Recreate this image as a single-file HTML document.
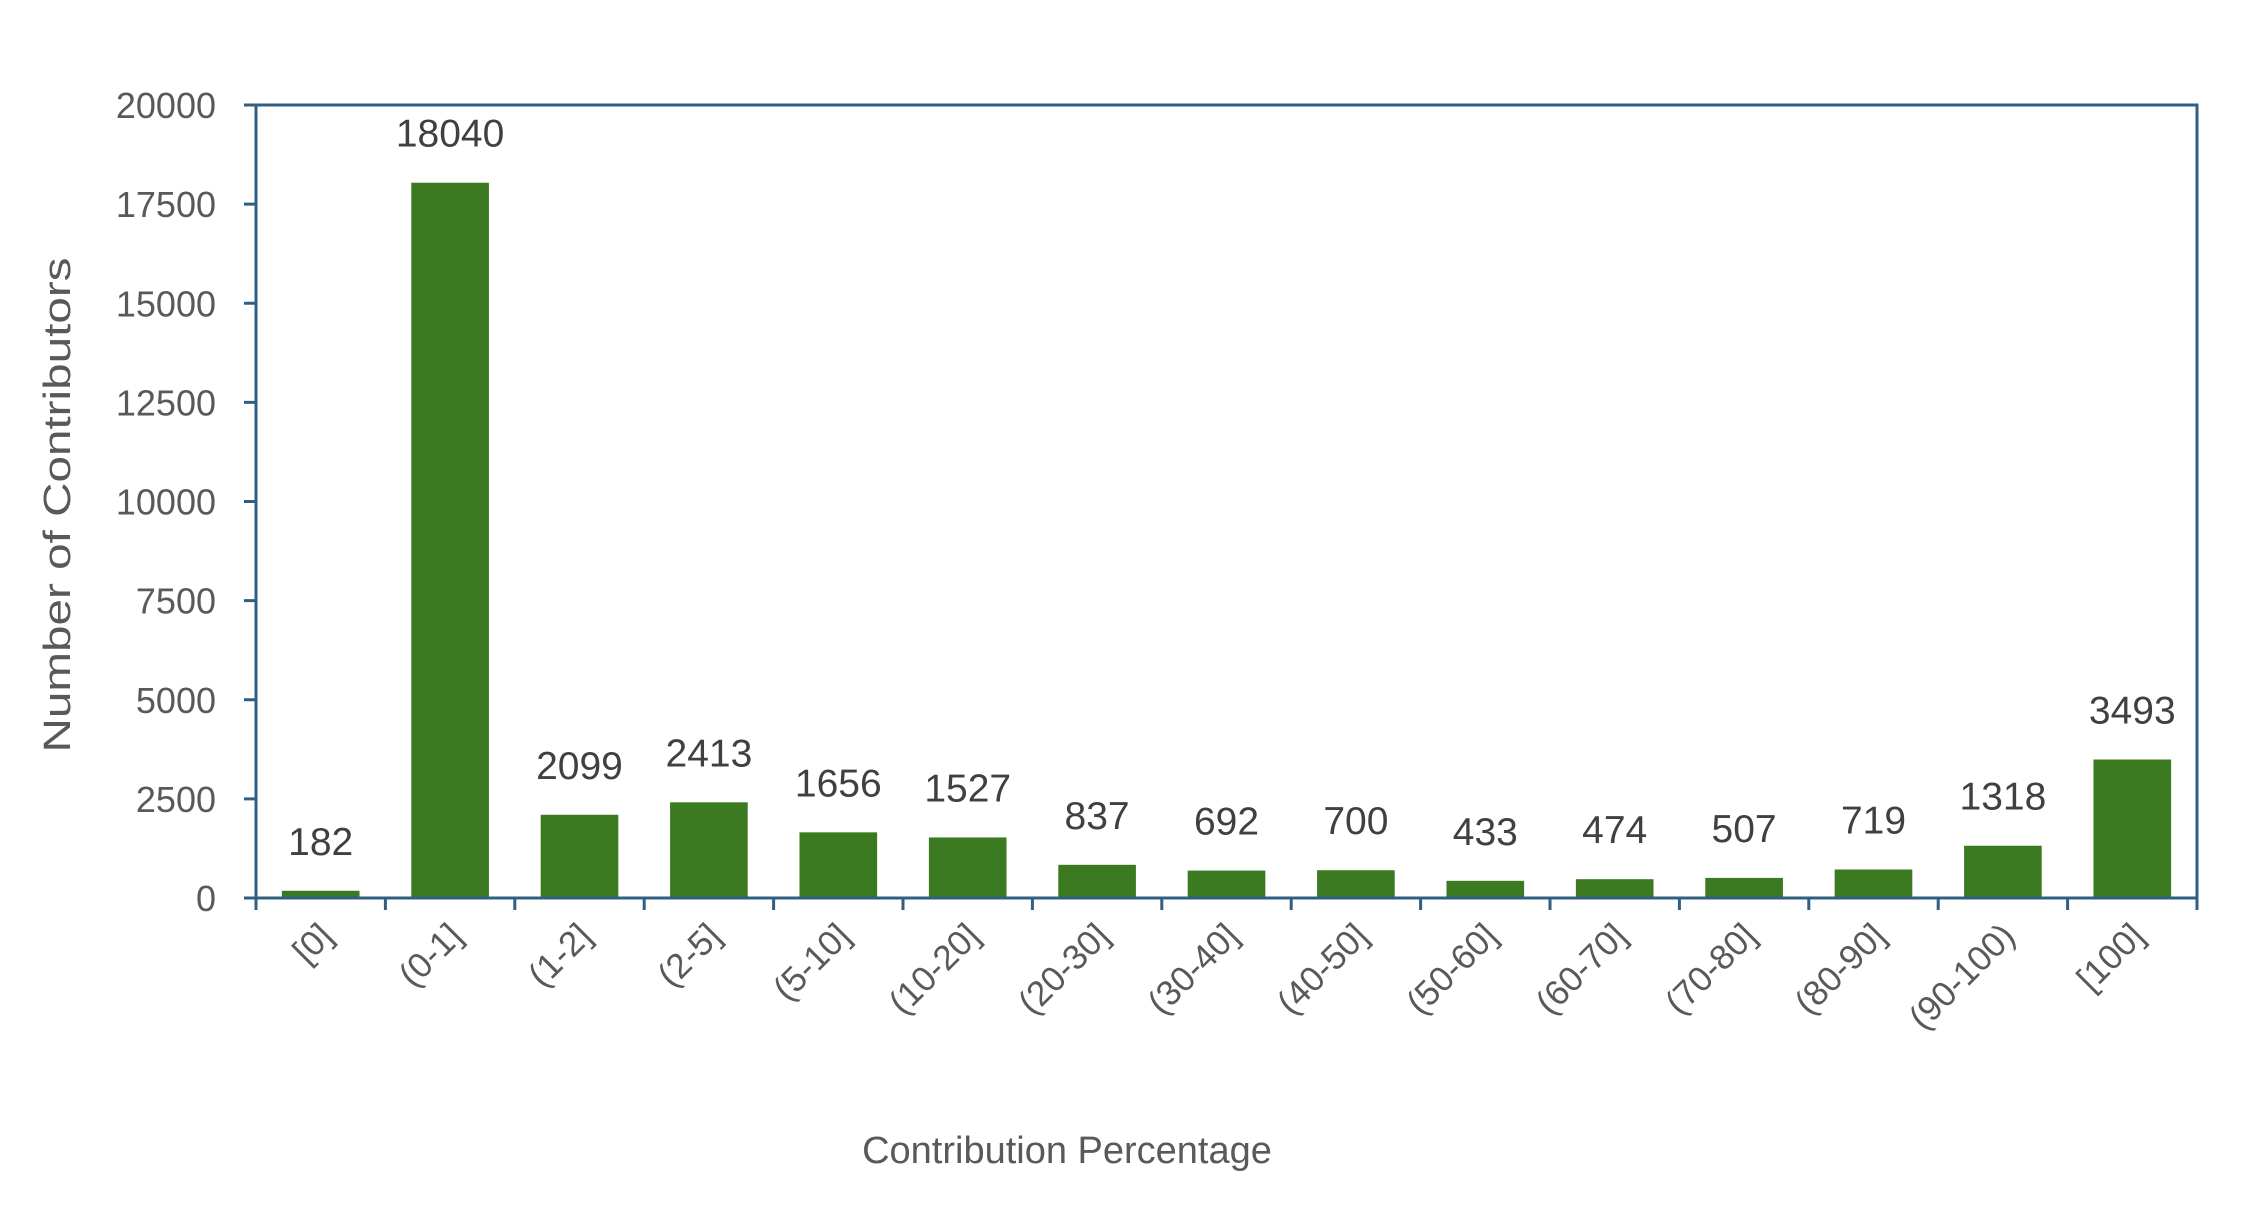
<!DOCTYPE html>
<html><head><meta charset="utf-8"><style>
html,body{margin:0;padding:0;background:#fff;}
svg{display:block;}
text{font-family:"Liberation Sans",sans-serif;}
</style></head><body>
<svg id="chart" width="2254" height="1216" viewBox="0 0 2254 1216" xmlns="http://www.w3.org/2000/svg">
<g id="bars"></g>
<g id="axes"></g>
<text x="0" y="0" transform="translate(70,505) rotate(-90)" text-anchor="middle" font-size="38" fill="#595959" textLength="495" lengthAdjust="spacingAndGlyphs">Number of Contributors</text>
<text x="1067" y="1163" text-anchor="middle" font-size="38" fill="#595959">Contribution Percentage</text>
</svg>
<script>
const categories = ["[0]","(0-1]","(1-2]","(2-5]","(5-10]","(10-20]","(20-30]","(30-40]","(40-50]","(50-60]","(60-70]","(70-80]","(80-90]","(90-100)","[100]"];
const values = [182,18040,2099,2413,1656,1527,837,692,700,433,474,507,719,1318,3493];
const yTicks = [0,2500,5000,7500,10000,12500,15000,17500,20000];

const NS = "http://www.w3.org/2000/svg";
const plotLeft = 256, plotRight = 2197, plotTop = 105, plotBase = 898, yMax = 20000;
const band = (plotRight - plotLeft) / categories.length;
function yScale(v){ return plotBase - (v / yMax) * (plotBase - plotTop); }
function xCenter(i){ return plotLeft + band * (i + 0.5); }
function mk(tag, attrs, parent){ const e = document.createElementNS(NS, tag); for (const k in attrs) e.setAttribute(k, attrs[k]); parent.appendChild(e); return e; }
const axesG = document.getElementById('axes'), barsG = document.getElementById('bars');
const axisColor = "#2f5f83";

values.forEach((v, i) => {
  const bw = band * 0.6;
  const r = mk('rect', {x: xCenter(i) - bw/2, y: yScale(v), width: bw, height: plotBase - yScale(v), fill: "#3c7a21"}, barsG);
  
  
  const t = mk('text', {x: xCenter(i), y: yScale(v) - 36, 'text-anchor': 'middle', 'font-size': 39, fill: '#404040'}, barsG);
  t.textContent = v;
  
  
  const lx = xCenter(i) + 14, ly = plotBase + 40;
  const c = mk('text', {x: lx, y: ly, 'text-anchor': 'end', 'font-size': 35, fill: '#595959', transform: `rotate(-45 ${lx} ${ly})`}, axesG);
  c.textContent = categories[i];
  
  
});
const fr = mk('rect', {x: plotLeft, y: plotTop, width: plotRight - plotLeft, height: plotBase - plotTop, fill: 'none', stroke: axisColor, 'stroke-width': 3}, axesG);


yTicks.forEach(v => {
  mk('line', {x1: plotLeft - 12, x2: plotLeft, y1: yScale(v), y2: yScale(v), stroke: axisColor, 'stroke-width': 3}, axesG);
  const t = mk('text', {x: 216, y: yScale(v) + 13, 'text-anchor': 'end', 'font-size': 36, fill: '#595959'}, axesG);
  t.textContent = v;
  
  
});
for (let i = 0; i <= categories.length; i++) {
  const x = plotLeft + band * i;
  mk('line', {x1: x, x2: x, y1: plotBase, y2: plotBase + 12, stroke: axisColor, 'stroke-width': 3}, axesG);
}
</script>
</body></html>
